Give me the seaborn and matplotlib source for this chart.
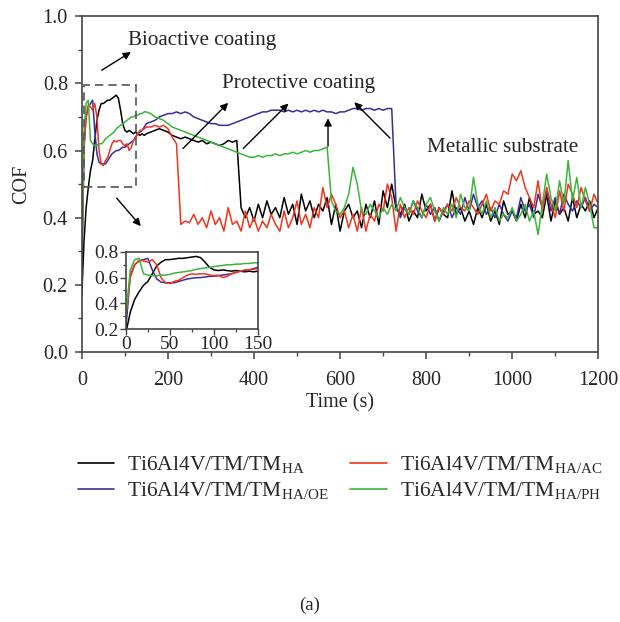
import numpy as np
import pandas as pd
import matplotlib
matplotlib.use("Agg")
import matplotlib.pyplot as plt
import seaborn as sns
from matplotlib.patches import Rectangle
from matplotlib.ticker import MultipleLocator

# ======================
# DATOS
# ======================
t_early = np.arange(0, 151, 5)      # 0..150 s cada 5 s
t_late = np.arange(160, 1201, 10)   # 160..1200 s cada 10 s

ha_early = [0.17, 0.33, 0.43, 0.49, 0.54, 0.57, 0.63, 0.69, 0.72, 0.74, 0.74,
            0.745, 0.75, 0.75, 0.755, 0.76, 0.765, 0.755, 0.72, 0.68, 0.66,
            0.655, 0.66, 0.655, 0.65, 0.655, 0.65, 0.645, 0.65, 0.645, 0.65]
ha_late = [0.655, 0.66, 0.665, 0.66, 0.655, 0.645, 0.64, 0.635, 0.64, 0.635,
           0.63, 0.625, 0.63, 0.62, 0.625, 0.62, 0.615, 0.62, 0.63, 0.625,
           0.63, 0.43, 0.40, 0.43, 0.39, 0.44, 0.40, 0.45, 0.41, 0.43,
           0.40, 0.46, 0.41, 0.44, 0.38, 0.47, 0.42, 0.45, 0.40, 0.44,
           0.42, 0.46, 0.38, 0.44, 0.36, 0.42, 0.44, 0.40, 0.42, 0.37,
           0.44, 0.40, 0.45, 0.38, 0.48, 0.43, 0.50, 0.43, 0.41, 0.44,
           0.39, 0.42, 0.40, 0.47, 0.42, 0.44, 0.39, 0.43, 0.41, 0.40,
           0.48, 0.41, 0.43, 0.39, 0.42, 0.38, 0.43, 0.40, 0.44, 0.39,
           0.42, 0.38, 0.45, 0.41, 0.42, 0.39, 0.44, 0.40, 0.46, 0.41,
           0.42, 0.40, 0.47, 0.39, 0.45, 0.41, 0.43, 0.39, 0.46, 0.40,
           0.44, 0.42, 0.45, 0.40, 0.43]

ac_early = [0.30, 0.60, 0.70, 0.735, 0.73, 0.72, 0.74, 0.70, 0.60, 0.56, 0.555,
            0.57, 0.58, 0.60, 0.62, 0.63, 0.625, 0.63, 0.63, 0.62, 0.615,
            0.62, 0.60, 0.61, 0.63, 0.64, 0.65, 0.66, 0.66, 0.665, 0.67]
ac_late = [0.67, 0.675, 0.67, 0.675, 0.665, 0.64, 0.62, 0.38, 0.39, 0.385,
           0.41, 0.38, 0.40, 0.37, 0.42, 0.38, 0.40, 0.36, 0.43, 0.38,
           0.39, 0.36, 0.42, 0.37, 0.40, 0.36, 0.39, 0.37, 0.41, 0.38,
           0.36, 0.42, 0.37, 0.40, 0.45, 0.38, 0.41, 0.37, 0.43, 0.40,
           0.49, 0.43, 0.47, 0.44, 0.40, 0.42, 0.37, 0.41, 0.36, 0.43,
           0.36, 0.41, 0.39, 0.44, 0.42, 0.50, 0.46, 0.36, 0.44, 0.40,
           0.43, 0.41, 0.45, 0.42, 0.40, 0.44, 0.39, 0.43, 0.41, 0.44,
           0.42, 0.46, 0.43, 0.42, 0.45, 0.43, 0.41, 0.44, 0.47, 0.42,
           0.45, 0.44, 0.48, 0.47, 0.53, 0.51, 0.54, 0.49, 0.46, 0.43,
           0.51, 0.42, 0.49, 0.44, 0.40, 0.48, 0.42, 0.50, 0.47, 0.43,
           0.49, 0.45, 0.42, 0.47, 0.44]

oe_early = [0.20, 0.62, 0.70, 0.73, 0.74, 0.75, 0.66, 0.59, 0.565, 0.56, 0.56,
            0.56, 0.57, 0.58, 0.59, 0.595, 0.60, 0.60, 0.605, 0.61, 0.61,
            0.615, 0.62, 0.625, 0.63, 0.64, 0.65, 0.655, 0.66, 0.67, 0.68]
oe_late = [0.685, 0.69, 0.70, 0.705, 0.71, 0.71, 0.715, 0.71, 0.715, 0.71,
           0.70, 0.695, 0.69, 0.685, 0.68, 0.68, 0.675, 0.675, 0.675, 0.68,
           0.685, 0.69, 0.695, 0.70, 0.705, 0.71, 0.715, 0.715, 0.72, 0.72,
           0.72, 0.715, 0.72, 0.715, 0.72, 0.715, 0.72, 0.715, 0.72, 0.715,
           0.72, 0.715, 0.715, 0.71, 0.715, 0.715, 0.72, 0.725, 0.725, 0.72,
           0.725, 0.725, 0.72, 0.725, 0.72, 0.725, 0.725, 0.44, 0.40, 0.43,
           0.41, 0.45, 0.42, 0.40, 0.44, 0.41, 0.43, 0.39, 0.42, 0.44,
           0.40, 0.43, 0.41, 0.46, 0.42, 0.47, 0.43, 0.45, 0.41, 0.43,
           0.40, 0.44, 0.41, 0.39, 0.42, 0.40, 0.46, 0.42, 0.44, 0.40,
           0.47, 0.43, 0.48, 0.42, 0.46, 0.41, 0.47, 0.44, 0.42, 0.45,
           0.43, 0.46, 0.42, 0.44, 0.43]

ph_early = [0.30, 0.66, 0.74, 0.75, 0.63, 0.62, 0.615, 0.615, 0.62, 0.62, 0.625,
            0.635, 0.64, 0.645, 0.65, 0.655, 0.665, 0.67, 0.675, 0.68, 0.685,
            0.69, 0.695, 0.70, 0.70, 0.705, 0.705, 0.71, 0.71, 0.715, 0.715]
ph_late = [0.71, 0.70, 0.695, 0.69, 0.68, 0.67, 0.665, 0.66, 0.655, 0.65,
           0.645, 0.64, 0.635, 0.63, 0.625, 0.62, 0.615, 0.61, 0.605, 0.60,
           0.595, 0.59, 0.585, 0.58, 0.58, 0.585, 0.58, 0.585, 0.585, 0.59,
           0.585, 0.59, 0.59, 0.595, 0.59, 0.595, 0.60, 0.595, 0.60, 0.60,
           0.605, 0.61, 0.45, 0.42, 0.41, 0.43, 0.47, 0.55, 0.50, 0.42,
           0.41, 0.44, 0.42, 0.40, 0.43, 0.41, 0.44, 0.42, 0.46, 0.43,
           0.41, 0.45, 0.43, 0.40, 0.44, 0.46, 0.42, 0.39, 0.43, 0.41,
           0.44, 0.40, 0.47, 0.43, 0.42, 0.52, 0.44, 0.41, 0.45, 0.40,
           0.43, 0.39, 0.41, 0.40, 0.43, 0.39, 0.41, 0.44, 0.39, 0.42,
           0.35, 0.44, 0.53, 0.46, 0.42, 0.51, 0.44, 0.57, 0.45, 0.52,
           0.43, 0.49, 0.44, 0.37, 0.37]

labels = ["Ti6Al4V/TM/TM$_{\\mathrm{HA}}$",
          "Ti6Al4V/TM/TM$_{\\mathrm{HA/OE}}$",
          "Ti6Al4V/TM/TM$_{\\mathrm{HA/AC}}$",
          "Ti6Al4V/TM/TM$_{\\mathrm{HA/PH}}$"]
colores = ["#000000", "#3d2c98", "#f0341e", "#3cb43c"]

# ======================
# TABLA LARGA
# ======================
tiempo = np.concatenate([t_early, t_late])
series = [ha_early + ha_late, oe_early + oe_late,
          ac_early + ac_late, ph_early + ph_late]
df = pd.concat([pd.DataFrame({"t": tiempo, "cof": vals, "muestra": lab})
                for vals, lab in zip(series, labels)], ignore_index=True)

# ======================
# ESTILO
# ======================
sns.set_theme(style="ticks")
plt.rcParams["font.family"] = ["Liberation Serif", "DejaVu Serif"]
plt.rcParams["mathtext.fontset"] = "custom"
plt.rcParams["mathtext.rm"] = "Liberation Serif"
plt.rcParams["axes.edgecolor"] = "#444444"
plt.rcParams["axes.linewidth"] = 1.2

fig = plt.figure(figsize=(6.2, 6.22), dpi=100)
ax = fig.add_axes([0.132, 0.434, 0.833, 0.540])

sns.lineplot(data=df, x="t", y="cof", hue="muestra", palette=colores,
             hue_order=labels, estimator=None, lw=1.1, ax=ax, legend=False)

ax.set_xlim(0, 1200)
ax.set_ylim(0, 1.0)
ax.xaxis.set_major_locator(MultipleLocator(200))
ax.xaxis.set_minor_locator(MultipleLocator(100))
ax.yaxis.set_major_locator(MultipleLocator(0.2))
ax.yaxis.set_minor_locator(MultipleLocator(0.1))
ax.yaxis.set_major_formatter(plt.FormatStrFormatter("%.1f"))
ax.tick_params(which="major", direction="out", length=5, width=1.1,
               labelsize=14.5, color="#444444", top=False, right=False)
ax.tick_params(axis="x", which="major", pad=9)
ax.tick_params(axis="y", which="major", pad=5)
ax.tick_params(which="minor", direction="out", length=3, width=1.0,
               color="#444444", top=False, right=False)
ax.set_xlabel("Time (s)", fontsize=14.5, labelpad=2)
ax.set_ylabel("COF", fontsize=14.5, labelpad=8)

# Rectángulo punteado
ax.add_patch(Rectangle((5, 0.49), 120, 0.305, fill=False, ls=(0, (5, 3)),
                       lw=1.2, edgecolor="#555555", zorder=5))

# Anotaciones
flecha = dict(arrowstyle="-|>", color="black", lw=1.0, mutation_scale=11,
              shrinkA=0, shrinkB=0)
ax.annotate("", xy=(114, 0.893), xytext=(46, 0.839), arrowprops=flecha)
ax.annotate("", xy=(137, 0.375), xytext=(81, 0.458), arrowprops=flecha)
ax.annotate("", xy=(340, 0.742), xytext=(235, 0.606), arrowprops=flecha)
ax.annotate("", xy=(480, 0.740), xytext=(375, 0.606), arrowprops=flecha)
ax.annotate("", xy=(572, 0.696), xytext=(572, 0.613), arrowprops=flecha)
ax.annotate("", xy=(633, 0.744), xytext=(716, 0.637), arrowprops=flecha)

ax.text(107, 0.929, "Bioactive coating", fontsize=15.2, va="center")
ax.text(326, 0.80, "Protective coating", fontsize=15.2, va="center")
ax.text(802, 0.61, "Metallic substrate", fontsize=15.2, va="center")

# Inset
ax_in = fig.add_axes([0.203, 0.471, 0.213, 0.124])
ax_in.set_facecolor("white")
sns.lineplot(data=df[df["t"] <= 150], x="t", y="cof", hue="muestra",
             palette=colores, hue_order=labels, estimator=None, lw=1.1,
             ax=ax_in, legend=False)
ax_in.set_xlim(0, 150)
ax_in.set_ylim(0.2, 0.8)
ax_in.xaxis.set_major_locator(MultipleLocator(50))
ax_in.xaxis.set_minor_locator(MultipleLocator(25))
ax_in.yaxis.set_major_locator(MultipleLocator(0.2))
ax_in.yaxis.set_minor_locator(MultipleLocator(0.1))
ax_in.yaxis.set_major_formatter(plt.FormatStrFormatter("%.1f"))
ax_in.tick_params(which="major", direction="out", length=4, width=1.0,
                  labelsize=14, pad=1, color="#444444")
ax_in.tick_params(which="minor", direction="out", length=2.5, width=0.9,
                  color="#444444")
ax_in.set_xlabel("")
ax_in.set_ylabel("")

# Leyenda
handles = [plt.Line2D([], [], color=c, lw=1.2) for c in colores]
fig.legend(handles, labels, ncol=2, loc="upper center",
           bbox_to_anchor=(0.548, 0.30), frameon=False, fontsize=15.5,
           handlelength=1.7, columnspacing=1.0, labelspacing=0.2,
           handletextpad=0.6)

fig.text(0.5, 0.027, "(a)", ha="center", va="center", fontsize=13.5)

fig.savefig("out.png", dpi=100)
